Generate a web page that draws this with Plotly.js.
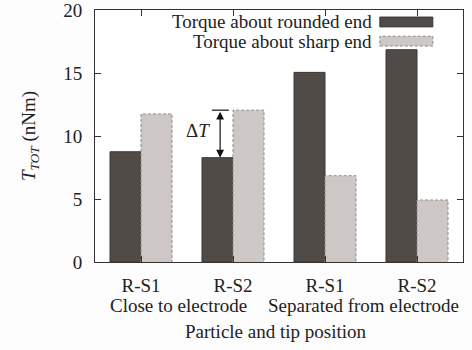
<!DOCTYPE html>
<html><head><meta charset="utf-8">
<script src="https://cdn.plot.ly/plotly-3.0.1.min.js"></script>
<style>html,body{margin:0;padding:0;background:#fdfdfd;}</style>
</head><body><div id="chart" style="width:472px;height:350px;"></div>
<script>
var categories = ["R-S1", "R-S2", "R-S1", "R-S2"];
var groupLabels = ["Close to electrode", "Separated from electrode"];
var roundedVals = [8.75, 8.28, 15.05, 16.85];
var sharpVals = [11.75, 12.05, 6.85, 4.92];
var seriesNames = ["Torque about rounded end", "Torque about sharp end"];
var xTitle = "Particle and tip position";

var pos = categories.map(function(_, i){ return i; });
var w = 0.337;
var font = "Times New Roman, Liberation Serif, DejaVu Serif, serif";
var darkC = "#514b48", lightC = "#cdc7c5";
var fs = 19;

// dashed outline of light bars, built from data
var ox = [], oy = [];
pos.forEach(function(p, i){
  ox.push(p, p, p + w, p + w, null);
  oy.push(0, sharpVals[i], sharpVals[i], 0, null);
});

var traces = [
  {type: "bar", x: pos, y: roundedVals, width: w, offset: -w, name: seriesNames[0],
   marker: {color: darkC, line: {color: "#3d3835", width: 1}}, showlegend: false},
  {type: "bar", x: pos, y: sharpVals, width: w, offset: 0, name: seriesNames[1],
   marker: {color: lightC, line: {width: 0}}, showlegend: false},
  {type: "scatter", mode: "lines", x: ox, y: oy, line: {color: "#8f8a88", width: 1, dash: "3px,2px"},
   hoverinfo: "skip", showlegend: false}
];

var annotations = [
  {xref: "paper", yref: "paper", x: 0.757, y: 0.953, xanchor: "right", yanchor: "middle",
   text: seriesNames[0], showarrow: false, font: {family: font, size: fs, color: "#222"}},
  {xref: "paper", yref: "paper", x: 0.757, y: 0.874, xanchor: "right", yanchor: "middle",
   text: seriesNames[1], showarrow: false, font: {family: font, size: fs, color: "#222"}},
  {xref: "x", yref: "paper", x: 0.41, y: 0, yshift: -31, xanchor: "center", yanchor: "top",
   text: groupLabels[0], showarrow: false, font: {family: font, size: fs, color: "#222"}},
  {xref: "x", yref: "paper", x: 2.42, y: 0, yshift: -31, xanchor: "center", yanchor: "top",
   text: groupLabels[1], showarrow: false, font: {family: font, size: fs, color: "#222"}},
  {xref: "paper", yref: "paper", x: 0.492, y: 0, yshift: -57, xanchor: "center", yanchor: "top",
   text: xTitle, showarrow: false, font: {family: font, size: fs, color: "#222"}},
  // delta T arrow
  {xref: "x", yref: "y", axref: "x", ayref: "y", x: 1 - 0.14, y: roundedVals[1],
   ax: 1 - 0.14, ay: sharpVals[1], text: "", showarrow: true, arrowside: "end+start",
   arrowhead: 2, arrowsize: 1.3, arrowwidth: 1.2, arrowcolor: "#111", standoff: 0, startstandoff: 0},
  {xref: "x", yref: "y", x: 1 - 0.225, y: (roundedVals[1] + sharpVals[1]) / 2 + 0.25, xanchor: "right",
   yanchor: "middle", text: "Δ<i>T</i>", showarrow: false, font: {family: font, size: fs, color: "#222"}}
];

var shapes = [
  {type: "rect", xref: "paper", yref: "paper", x0: 0.774, x1: 0.918, y0: 0.933, y1: 0.972,
   fillcolor: darkC, line: {color: "#3d3835", width: 1}},
  {type: "rect", xref: "paper", yref: "paper", x0: 0.774, x1: 0.918, y0: 0.857, y1: 0.896,
   fillcolor: lightC, line: {color: "#8f8a88", width: 1, dash: "3px,2px"}},
  {type: "line", xref: "x", yref: "y", x0: 1 - 0.23, x1: 1 - 0.045, y0: sharpVals[1], y1: sharpVals[1],
   line: {color: "#111", width: 1.2}}
];

var layout = {
  width: 472, height: 350,
  margin: {l: 95, r: 9, t: 10, b: 88},
  paper_bgcolor: "#fdfdfd", plot_bgcolor: "#ffffff",
  font: {family: font, size: fs, color: "#222"},
  showlegend: false,
  xaxis: {range: [-0.5, 3.5], tickvals: pos, ticktext: categories, ticks: "inside", ticklen: 6,
    tickcolor: "#333", showline: true, linecolor: "#333", linewidth: 1, mirror: "ticks",
    showgrid: false, zeroline: false, ticklabelstandoff: 6, tickfont: {family: font, size: fs}},
  yaxis: {range: [0, 20], tickvals: [0, 5, 10, 15, 20], ticks: "inside", ticklen: 6,
    tickcolor: "#333", showline: true, linecolor: "#333", linewidth: 1, mirror: "ticks",
    showgrid: false, zeroline: false, ticklabelstandoff: 8, ticklabeloverflow: "allow",
    tickfont: {family: font, size: 19},
    title: {text: "<i>T</i><sub><i>TOT</i></sub> (nNm)", font: {family: font, size: fs}, standoff: 22}},
  annotations: annotations,
  shapes: shapes,
  bargap: 0.3
};

Plotly.newPlot("chart", traces, layout, {displayModeBar: false, staticPlot: true});
</script></body></html>
